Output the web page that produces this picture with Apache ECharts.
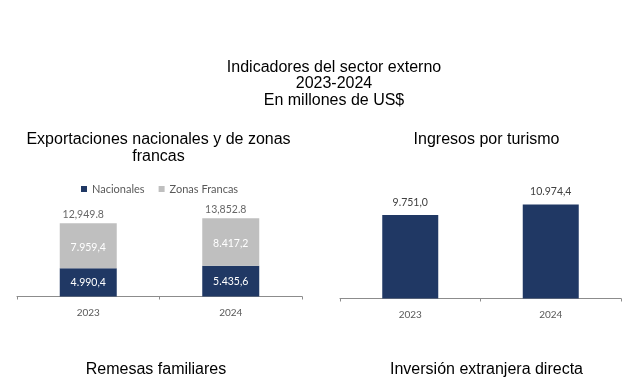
<!DOCTYPE html>
<html>
<head>
<meta charset="utf-8">
<script src="https://cdn.jsdelivr.net/npm/echarts@6/dist/echarts.min.js"></script>
<style>
html,body{margin:0;padding:0;background:#fff;}
#c{width:641px;height:388px;}
</style>
</head>
<body>
<div id="c"></div>
<script>
// ---- data ----
const categories = ['2023', '2024'];
const nacionales = [4990.4, 5435.6];
const zonasFrancas = [7959.4, 8417.2];
const turismo = [9751.0, 10974.4];
const totalExport = nacionales.map((v, i) => Math.round((v + zonasFrancas[i]) * 10) / 10);
const seriesNames = ['Nacionales', 'Zonas Francas'];
const mainTitle = 'Indicadores del sector externo\n2023-2024\nEn millones de US$';
const panelTitles = ['Exportaciones nacionales y de zonas\nfrancas', 'Ingresos por turismo', 'Remesas familiares', 'Inversión extranjera directa'];

// ---- formatters ----
function group(intStr, sep) {
  return intStr.replace(/\B(?=(\d{3})+(?!\d))/g, sep);
}
function fmtEs(v) {
  const p = Number(v).toFixed(1).split('.');
  return group(p[0], '.') + ',' + p[1];
}
function fmtEn(v) {
  const p = Number(v).toFixed(1).split('.');
  return group(p[0], ',') + '.' + p[1];
}

const NAVY = '#203864';
const GREY = '#bfbfbf';
const AXIS = '#8c8c8c';
const LBL = 'Lato';
const TITLE_FONT = '"Liberation Sans", Arial, sans-serif';

function catAxis(gridIndex) {
  return {
    type: 'category', gridIndex: gridIndex, data: categories,
    axisLine: { lineStyle: { color: AXIS, width: 1 } },
    axisTick: { show: true, length: 3, lineStyle: { color: AXIS } },
    axisLabel: { color: '#595959', fontFamily: LBL, fontSize: 10, margin: 11.5 }
  };
}
function valAxis(gridIndex, max) {
  return {
    type: 'value', gridIndex: gridIndex, min: 0, max: max,
    show: false, splitLine: { show: false }
  };
}
function titleText(text, x, y, lh) {
  return {
    type: 'text', x: x, y: y,
    style: {
      text: text, fill: '#000', fontFamily: TITLE_FONT, fontSize: 16,
      lineHeight: lh || 17, align: 'center', verticalAlign: 'middle'
    }
  };
}

const chart = echarts.init(document.getElementById('c'), null, { renderer: 'canvas' });
chart.setOption({
  animation: false,
  backgroundColor: '#fff',
  graphic: [
    titleText(mainTitle, 334, 83.8, 16.7),
    titleText(panelTitles[0], 158.5, 148.2, 17.3),
    titleText(panelTitles[1], 486.5, 139.5),
    titleText(panelTitles[2], 156, 369.5),
    titleText(panelTitles[3], 486.5, 369.5)
  ],
  legend: {
    left: 76, top: 178.5, padding: 5,
    itemWidth: 6, itemHeight: 6, itemGap: 14,
    icon: 'rect',
    data: seriesNames,
    textStyle: { color: '#595959', fontFamily: LBL, fontSize: 11 }
  },
  grid: [
    { left: 17, width: 285, top: 206, height: 90.5 },
    { left: 340, width: 281, top: 195.7, height: 102.8 }
  ],
  xAxis: [catAxis(0), catAxis(1)],
  yAxis: [valAxis(0, 16000), valAxis(1, 12000)],
  series: [
    {
      name: seriesNames[0], type: 'bar', stack: 'exp', xAxisIndex: 0, yAxisIndex: 0,
      data: nacionales, barWidth: 57, itemStyle: { color: NAVY },
      label: { show: true, position: 'inside', color: '#fff', fontFamily: LBL, fontSize: 10.5,
        formatter: p => fmtEs(p.value) }
    },
    {
      name: seriesNames[1], type: 'bar', stack: 'exp', xAxisIndex: 0, yAxisIndex: 0,
      data: zonasFrancas, barWidth: 57, itemStyle: { color: GREY },
      label: { show: true, position: 'inside', color: '#fff', fontFamily: LBL, fontSize: 10.5,
        offset: [0, 2], formatter: p => fmtEs(p.value) }
    },
    {
      name: 'Total', type: 'scatter', xAxisIndex: 0, yAxisIndex: 0,
      data: totalExport, symbolSize: 0, silent: true,
      label: { show: true, position: 'top', distance: 3, offset: [-5, 0], color: '#404040',
        fontFamily: LBL, fontSize: 10.5, formatter: p => fmtEn(p.value) }
    },
    {
      name: 'Turismo', type: 'bar', xAxisIndex: 1, yAxisIndex: 1,
      data: turismo, barWidth: 56, itemStyle: { color: NAVY },
      label: { show: true, position: 'top', distance: 7, color: '#404040', fontFamily: LBL,
        fontSize: 10.5, formatter: p => fmtEs(p.value) }
    }
  ]
});
</script>
</body>
</html>
